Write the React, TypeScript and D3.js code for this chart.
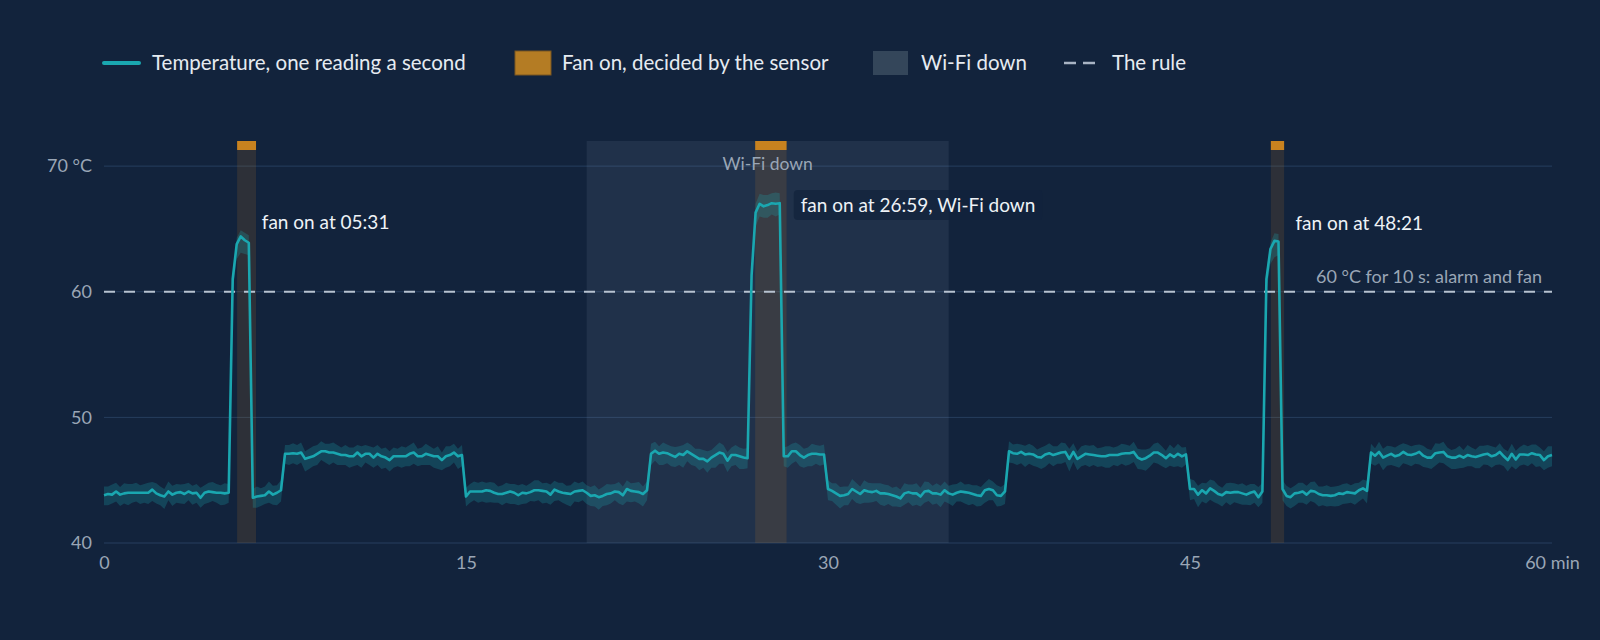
import { useEffect, useRef } from 'react';
import * as d3 from 'd3';

// mean temperature of each 10 s bucket (°C), from 0:00 to 60:00
const tempMean = [
  43.8, 43.9, 43.85, 44.1, 43.85, 43.95, 44.0, 44.0, 44.0, 44.0, 44.0, 44.0,
  44.25, 43.95, 43.8, 43.7, 44.1, 43.85, 44.0, 44.05, 43.9, 44.1, 43.95, 44.0,
  43.6, 44.0, 44.1, 44.05, 44.0, 44.0, 43.95, 44.0, 61.0, 63.8, 64.4, 64.1,
  63.9, 43.6, 43.7, 43.75, 43.8, 44.1, 43.85, 44.0, 44.2, 47.1, 47.1, 47.15,
  47.1, 47.2, 46.7, 46.8, 46.9, 47.1, 47.3, 47.3, 47.2, 47.2, 47.1, 47.0,
  47.0, 46.9, 46.9, 47.2, 46.9, 47.1, 47.1, 46.8, 47.1, 46.9, 46.8, 46.6,
  46.9, 46.9, 46.9, 46.9, 47.1, 47.2, 46.9, 46.9, 47.1, 47.0, 46.9, 46.9,
  46.6, 46.9, 47.0, 47.2, 46.9, 47.0, 43.7, 44.1, 44.1, 44.1, 44.1, 44.2,
  44.15, 44.0, 43.9, 43.9, 44.0, 44.1, 44.0, 43.8, 44.0, 43.95, 44.05, 44.2,
  44.2, 44.15, 44.1, 43.85, 44.25, 44.1, 44.0, 43.95, 43.9, 44.1, 44.15, 44.2,
  44.0, 43.75, 43.8, 43.65, 43.75, 43.9, 43.95, 44.1, 44.05, 43.8, 44.3, 44.15,
  44.1, 44.05, 43.9, 44.2, 47.1, 47.35, 47.1, 47.2, 47.15, 47.0, 46.85, 47.1,
  47.0, 47.3, 47.1, 46.9, 46.7, 46.7, 46.5, 46.8, 47.0, 47.2, 47.1, 46.55,
  47.0, 47.0, 46.9, 46.8, 46.75, 61.3, 66.3, 67.0, 66.8, 66.9, 67.05, 67.0,
  67.05, 46.9, 46.9, 47.3, 47.3, 47.0, 46.8, 47.0, 47.1, 47.1, 47.05, 47.05,
  44.3, 44.15, 43.95, 43.75, 43.8, 43.9, 44.3, 44.1, 43.9, 44.2, 44.1, 44.05,
  44.15, 43.95, 43.95, 43.9, 43.8, 43.7, 43.55, 43.95, 44.05, 43.95, 43.95, 43.7,
  44.1, 44.15, 43.95, 43.95, 43.85, 44.2, 43.95, 43.85, 44.0, 44.1, 44.05, 44.0,
  43.9, 43.8, 43.75, 44.2, 44.3, 44.2, 43.8, 43.75, 44.1, 47.3, 47.15, 47.1,
  47.25, 47.05, 47.1, 47.05, 46.85, 46.8, 47.05, 47.15, 47.0, 47.1, 47.2, 47.25,
  46.7, 47.25, 46.7, 46.9, 47.1, 47.05, 47.0, 46.95, 46.9, 46.9, 47.0, 47.0,
  47.0, 47.1, 47.15, 47.15, 47.25, 46.8, 46.65, 46.75, 46.95, 47.2, 47.2, 47.0,
  46.75, 47.05, 46.85, 47.1, 46.9, 47.05, 44.3, 44.3, 43.85, 44.2, 43.95, 44.35,
  44.15, 43.9, 43.8, 44.05, 44.0, 44.05, 44.05, 43.95, 43.85, 44.0, 44.1, 43.65,
  44.1, 61.0, 63.4, 64.05, 64.0, 44.3, 43.75, 43.65, 43.95, 44.0, 44.1, 43.85,
  44.15, 44.1, 43.9, 43.8, 43.8, 43.75, 43.8, 43.95, 43.9, 44.05, 44.0, 43.95,
  44.2, 44.35, 44.15, 47.2, 46.95, 47.25, 46.8, 46.95, 47.1, 46.9, 47.0, 47.25,
  47.05, 47.0, 47.1, 47.25, 46.95, 46.8, 46.8, 47.15, 47.2, 47.25, 46.9, 46.8,
  46.8, 46.95, 46.8, 47.0, 46.9, 46.85, 46.95, 47.05, 47.1, 46.9, 47.0, 47.25,
  46.9, 46.6, 47.1, 46.65, 47.05, 47.05, 47.0, 47.15, 47.05, 47.0, 46.6, 46.9,
  47.0,
];

// lowest and highest one-second reading in each bucket, tenths of °C from the mean
const spreadBelow = [
  8, 9, 7, 8, 9, 8, 10, 8, 7, 9, 8, 9,
  9, 8, 8, 10, 7, 9, 8, 9, 8, 7, 9, 8,
  8, 9, 9, 7, 8, 10, 9, 8, 10, 12, 13, 11,
  10, 8, 9, 8, 7, 9, 8, 10, 9, 8, 9, 8,
  9, 8, 10, 9, 8, 9, 7, 9, 10, 8, 9, 8,
  8, 9, 8, 10, 9, 7, 9, 8, 9, 10, 8, 9,
  9, 8, 9, 8, 10, 9, 8, 7, 9, 8, 9, 10,
  8, 9, 9, 8, 10, 9, 8, 9, 7, 9, 8, 10,
  9, 8, 7, 9, 8, 10, 9, 8, 9, 8, 7, 9,
  8, 10, 9, 8, 9, 7, 8, 9, 10, 8, 9, 8,
  9, 8, 9, 10, 8, 9, 8, 7, 9, 8, 10, 9,
  8, 9, 10, 8, 9, 8, 9, 10, 8, 9, 8, 9,
  10, 8, 9, 8, 9, 7, 9, 8, 10, 9, 8, 9,
  9, 8, 10, 9, 8, 10, 11, 10, 9, 10, 9, 10,
  9, 8, 9, 10, 8, 9, 8, 9, 10, 8, 9, 8,
  9, 8, 9, 10, 8, 9, 8, 9, 8, 10, 9, 8,
  8, 9, 10, 8, 9, 8, 7, 9, 8, 10, 9, 8,
  9, 8, 9, 8, 10, 9, 8, 9, 7, 8, 9, 10,
  8, 9, 8, 10, 9, 8, 9, 8, 10, 9, 8, 9,
  9, 10, 8, 9, 8, 9, 10, 8, 9, 8, 9, 8,
  10, 8, 9, 8, 9, 10, 8, 9, 8, 9, 10, 8,
  9, 8, 10, 9, 8, 9, 8, 10, 9, 8, 9, 9,
  8, 9, 8, 10, 9, 8, 9, 8, 10, 9, 8, 9,
  9, 8, 9, 8, 10, 8, 9, 9, 8, 10, 9, 8,
  9, 10, 12, 13, 11, 9, 8, 9, 10, 8, 9, 8,
  8, 9, 10, 8, 9, 8, 9, 10, 8, 9, 8, 9,
  9, 8, 10, 9, 8, 9, 10, 8, 9, 8, 10, 9,
  8, 9, 8, 10, 9, 8, 9, 10, 8, 9, 8, 9,
  9, 10, 8, 9, 8, 9, 10, 8, 9, 9, 8, 10,
  8, 9, 10, 8, 9, 8, 9, 8, 10, 9, 8, 9,
  9,
];
const spreadAbove = [
  7, 6, 8, 7, 6, 8, 7, 7, 8, 6, 7, 8,
  6, 8, 7, 6, 8, 7, 7, 6, 8, 7, 6, 7,
  8, 6, 7, 8, 7, 6, 8, 7, 5, 5, 5, 6,
  6, 7, 8, 6, 7, 8, 7, 6, 8, 7, 7, 8,
  7, 8, 6, 7, 8, 7, 8, 6, 7, 8, 7, 6,
  8, 7, 7, 6, 8, 7, 6, 8, 7, 6, 8, 7,
  7, 6, 8, 7, 7, 8, 6, 7, 8, 7, 6, 8,
  6, 8, 7, 7, 6, 8, 7, 6, 8, 7, 8, 6,
  7, 8, 6, 7, 8, 6, 7, 8, 7, 6, 7, 8,
  8, 6, 7, 8, 7, 7, 8, 6, 7, 8, 6, 7,
  6, 7, 8, 6, 7, 8, 7, 6, 8, 7, 7, 6,
  7, 8, 6, 7, 8, 7, 6, 8, 7, 7, 8, 6,
  8, 7, 7, 6, 8, 7, 8, 6, 7, 8, 7, 7,
  6, 8, 7, 7, 8, 6, 7, 8, 9, 8, 8, 9,
  8, 7, 8, 6, 7, 8, 7, 6, 8, 7, 7, 8,
  7, 6, 8, 7, 7, 6, 8, 7, 6, 8, 7, 7,
  6, 8, 7, 7, 6, 8, 7, 8, 6, 7, 8, 7,
  8, 7, 6, 8, 7, 7, 6, 8, 7, 8, 6, 7,
  7, 8, 7, 6, 8, 7, 8, 7, 6, 8, 7, 8,
  6, 7, 8, 7, 6, 8, 7, 8, 7, 6, 8, 7,
  8, 7, 6, 8, 7, 7, 8, 6, 7, 8, 7, 6,
  7, 8, 7, 6, 8, 7, 8, 7, 6, 7, 8, 7,
  6, 8, 7, 8, 7, 6, 8, 7, 7, 6, 8, 7,
  8, 7, 6, 7, 8, 7, 6, 8, 7, 7, 6, 8,
  7, 6, 5, 6, 6, 7, 8, 7, 6, 8, 7, 7,
  7, 8, 6, 7, 8, 7, 7, 6, 8, 7, 6, 8,
  6, 7, 8, 7, 6, 8, 7, 8, 6, 7, 8, 7,
  8, 7, 7, 6, 8, 7, 6, 8, 7, 8, 7, 6,
  7, 8, 6, 8, 7, 6, 8, 7, 7, 8, 6, 7,
  6, 7, 8, 7, 6, 8, 7, 7, 8, 6, 7, 8,
  7,
];

const BUCKET_SECONDS = 10;

const fanRuns = [
  { on: '05:31', off: '06:18' },
  { on: '26:59', off: '28:17' },
  { on: '48:21', off: '48:54' },
];
const wifiOutage = { from: 20, to: 35 };
const ruleTemp = 60;
const ruleLabel = '60 °C for 10 s: alarm and fan';
const wifiLabel = 'Wi-Fi down';

const xTicks = [0, 15, 30, 45, 60];
const yTicks = [40, 50, 60, 70];

const annotations = [
  { text: 'fan on at 05:31', at: 5.67, temp: 65.0, boxed: false },
  { text: 'fan on at 26:59, Wi-Fi down', at: 28.0, temp: 66.35, boxed: true },
  { text: 'fan on at 48:21', at: 48.5, temp: 64.92, boxed: false },
];

const legendItems = [
  { kind: 'line', label: 'Temperature, one reading a second' },
  { kind: 'fan', label: 'Fan on, decided by the sensor' },
  { kind: 'wifi', label: 'Wi-Fi down' },
  { kind: 'rule', label: 'The rule' },
];

// legend layout: where each key starts and where its text starts
const LEGEND_X = [102, 515, 873, 1064];
const LEGEND_TEXT_DX = [50, 47, 48, 48];

const FONT = 'Lato, "Noto Sans", sans-serif';
const BG = '#12233c';
const TEAL = '#1aa7b0';
const ORANGE = '#c8821f';

const toMinutes = (s: string) => {
  const [m, sec] = s.split(':').map(Number);
  return m + sec / 60;
};

interface Bucket {
  t: number;
  mean: number;
  lo: number;
  hi: number;
}

export default function App() {
  const svgRef = useRef<SVGSVGElement>(null);

  useEffect(() => {
    if (!svgRef.current) return;
    document.body.style.margin = '0';
    document.body.style.background = BG;

    const width = 1600;
    const height = 640;
    const svg = d3.select(svgRef.current);
    svg.selectAll('*').remove();
    svg.attr('width', width).attr('height', height);

    const x = d3.scaleLinear().domain([0, 60]).range([104, 1552]);
    const y = d3.scaleLinear().domain([40, 72]).range([543, 141]);
    const [top, bottom] = [y(72), y(40)];

    const data: Bucket[] = tempMean.map((v, i) => ({
      t: (i * BUCKET_SECONDS) / 60,
      mean: v,
      lo: v - spreadBelow[i] / 10,
      hi: v + spreadAbove[i] / 10,
    }));

    svg.append('rect').attr('width', width).attr('height', height).attr('fill', BG);

    // grid
    svg
      .append('g')
      .selectAll('line')
      .data(yTicks)
      .join('line')
      .attr('x1', x(0))
      .attr('x2', x(60))
      .attr('y1', (d) => y(d))
      .attr('y2', (d) => y(d))
      .attr('stroke', '#263e5e')
      .attr('stroke-width', 1);

    // wi-fi outage
    svg
      .append('rect')
      .attr('x', x(wifiOutage.from))
      .attr('width', x(wifiOutage.to) - x(wifiOutage.from))
      .attr('y', top)
      .attr('height', bottom - top)
      .attr('fill', 'rgb(140,160,182)')
      .attr('fill-opacity', 0.12);

    // fan runs
    const fans = svg
      .append('g')
      .selectAll('g')
      .data(fanRuns)
      .join('g');
    fans
      .append('rect')
      .attr('x', (d) => x(toMinutes(d.on)))
      .attr('width', (d) => x(toMinutes(d.off)) - x(toMinutes(d.on)))
      .attr('y', top)
      .attr('height', bottom - top)
      .attr('fill', ORANGE)
      .attr('fill-opacity', 0.15);
    fans
      .append('rect')
      .attr('x', (d) => x(toMinutes(d.on)))
      .attr('width', (d) => x(toMinutes(d.off)) - x(toMinutes(d.on)))
      .attr('y', top)
      .attr('height', 9)
      .attr('fill', ORANGE);

    svg
      .append('text')
      .attr('x', (x(wifiOutage.from) + x(wifiOutage.to)) / 2)
      .attr('y', top + 29)
      .attr('text-anchor', 'middle')
      .attr('font-family', FONT)
      .attr('font-size', 17.5)
      .attr('fill', '#9aa6b6')
      .text(wifiLabel);

    // the rule
    svg
      .append('line')
      .attr('x1', x(0))
      .attr('x2', x(60))
      .attr('y1', y(ruleTemp))
      .attr('y2', y(ruleTemp))
      .attr('stroke', '#b7c2d0')
      .attr('stroke-width', 2)
      .attr('stroke-dasharray', '11 9');
    svg
      .append('text')
      .attr('x', x(60) - 10)
      .attr('y', y(ruleTemp) - 9)
      .attr('text-anchor', 'end')
      .attr('font-family', FONT)
      .attr('font-size', 18)
      .attr('fill', '#9aa6b6')
      .text(ruleLabel);

    // temperature
    const band = d3
      .area<Bucket>()
      .x((d) => x(d.t))
      .y0((d) => y(d.lo))
      .y1((d) => y(d.hi));
    svg
      .append('path')
      .datum(data)
      .attr('d', band)
      .attr('fill', TEAL)
      .attr('fill-opacity', 0.25);

    const line = d3
      .line<Bucket>()
      .x((d) => x(d.t))
      .y((d) => y(d.mean));
    svg
      .append('path')
      .datum(data)
      .attr('d', line)
      .attr('fill', 'none')
      .attr('stroke', TEAL)
      .attr('stroke-width', 2.6)
      .attr('stroke-linejoin', 'round');

    // annotations
    annotations.forEach((a) => {
      const g = svg.append('g');
      const tx = x(a.at) + 21;
      const ty = y(a.temp);
      const box = g.append('rect');
      const label = g
        .append('text')
        .attr('x', tx)
        .attr('y', ty)
        .attr('font-family', FONT)
        .attr('font-size', 19)
        .attr('fill', '#eef2f6')
        .text(a.text);
      if (a.boxed) {
        const w = (label.node() as SVGTextElement).getComputedTextLength();
        box
          .attr('x', tx - 7)
          .attr('y', ty - 22)
          .attr('width', w + 14)
          .attr('height', 30)
          .attr('rx', 4)
          .attr('fill', BG)
          .attr('fill-opacity', 0.75);
      } else {
        box.remove();
      }
    });

    // axes
    const yAxis = d3
      .axisLeft(y)
      .tickValues(yTicks)
      .tickSize(0)
      .tickPadding(12)
      .tickFormat((d) => (d === 70 ? '70 °C' : String(d)));
    const xAxis = d3
      .axisBottom(x)
      .tickValues(xTicks)
      .tickSize(0)
      .tickPadding(13)
      .tickFormat((d) => (d === 60 ? '60 min' : String(d)));

    [
      svg.append('g').attr('transform', `translate(${x(0)},0)`).call(yAxis),
      svg.append('g').attr('transform', `translate(0,${bottom})`).call(xAxis),
    ].forEach((g) => {
      g.select('.domain').remove();
      g.selectAll('text')
        .attr('font-family', FONT)
        .attr('font-size', 18)
        .attr('fill', '#9aa6b6');
    });

    // legend
    const legend = svg
      .append('g')
      .attr('font-family', FONT)
      .attr('font-size', 20.5)
      .attr('fill', '#e6ebf1');
    const midY = 63;
    legendItems.forEach((item, i) => {
      const cx = LEGEND_X[i];
      if (item.kind === 'line') {
        legend
          .append('line')
          .attr('x1', cx + 2)
          .attr('x2', cx + 37)
          .attr('y1', midY)
          .attr('y2', midY)
          .attr('stroke', TEAL)
          .attr('stroke-width', 4)
          .attr('stroke-linecap', 'round');
      } else if (item.kind === 'fan') {
        legend
          .append('rect')
          .attr('x', cx)
          .attr('y', midY - 12)
          .attr('width', 36)
          .attr('height', 24)
          .attr('fill', '#b47c24')
          .attr('stroke', '#7a5620')
          .attr('stroke-width', 1);
      } else if (item.kind === 'wifi') {
        legend
          .append('rect')
          .attr('x', cx)
          .attr('y', midY - 12)
          .attr('width', 35)
          .attr('height', 24)
          .attr('fill', '#34465a');
      } else {
        legend
          .append('line')
          .attr('x1', cx)
          .attr('x2', cx + 31)
          .attr('y1', midY)
          .attr('y2', midY)
          .attr('stroke', '#a9b4c4')
          .attr('stroke-width', 2.5)
          .attr('stroke-dasharray', '12 7');
      }
      legend
        .append('text')
        .attr('x', cx + LEGEND_TEXT_DX[i])
        .attr('y', midY + 7)
        .text(item.label);
    });
  }, []);

  return <svg ref={svgRef} style={{ display: 'block' }} />;
}
